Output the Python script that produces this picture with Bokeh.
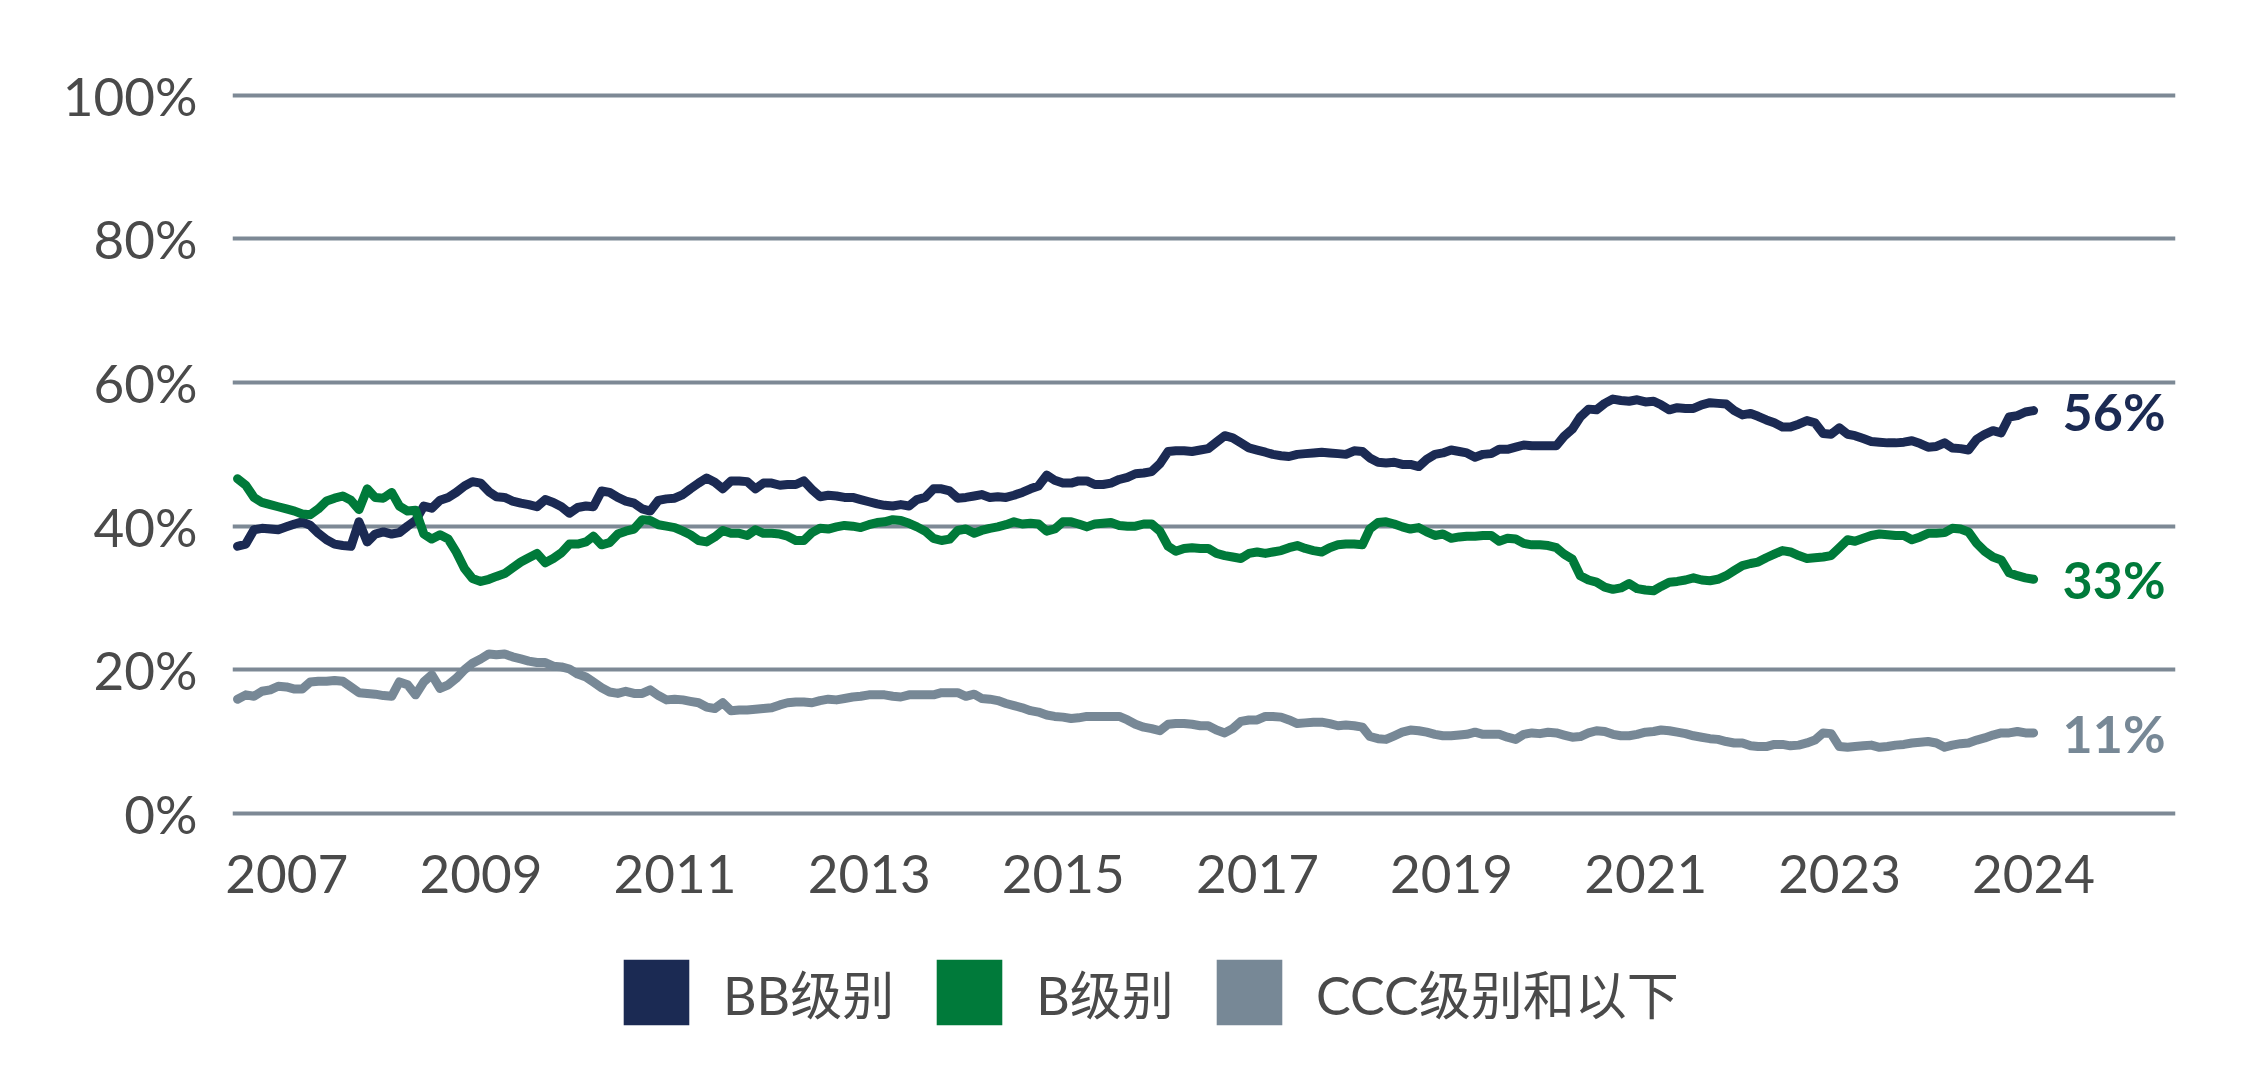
import pandas as pd
from bokeh.plotting import figure
from bokeh.layouts import column
from bokeh.models import (Range1d, FixedTicker, DatetimeTickFormatter, PrintfTickFormatter,
                          Legend, LegendItem, ColumnDataSource)
from bokeh.core.properties import value
from bokeh.embed import file_html
from bokeh.resources import INLINE

# ---------------- data (monthly, month-end, Jun 2006 - Dec 2024) ----------------
first_month = "2006-06-01"

bb = [37.2, 37.5, 39.5, 39.7, 39.6, 39.5, 39.9, 40.3, 40.6, 40.1,
      39.0, 38.1, 37.5, 37.3, 37.2, 40.6, 37.8, 38.9, 39.2, 38.9,
      39.1, 40.0, 40.8, 42.8, 42.5, 43.6, 44.0, 44.7, 45.6, 46.2,
      46.0, 44.8, 44.1, 44.0, 43.5, 43.2, 43.0, 42.7, 43.7, 43.3,
      42.7, 41.8, 42.6, 42.8, 42.7, 44.9, 44.7, 44.0, 43.5, 43.2,
      42.4, 42.1, 43.6, 43.8, 43.9, 44.4, 45.2, 46.0, 46.7, 46.1,
      45.2, 46.3, 46.3, 46.2, 45.2, 46.0, 46.0, 45.7, 45.8, 45.8,
      46.3, 45.1, 44.1, 44.3, 44.2, 44.0, 44.0, 43.7, 43.4, 43.1,
      42.9, 42.8, 43.0, 42.8, 43.7, 44.0, 45.2, 45.2, 44.9, 43.9,
      44.0, 44.2, 44.4, 44.0, 44.1, 44.0, 44.3, 44.7, 45.2, 45.6,
      47.1, 46.4, 46.0, 46.0, 46.3, 46.3, 45.8, 45.8, 46.0, 46.5,
      46.8, 47.3, 47.4, 47.6, 48.7, 50.4, 50.5, 50.5, 50.4, 50.6,
      50.8, 51.7, 52.6, 52.3, 51.6, 50.9, 50.6, 50.3, 50.0, 49.8,
      49.7, 50.0, 50.1, 50.2, 50.3, 50.2, 50.1, 50.0, 50.5, 50.4,
      49.5, 48.9, 48.8, 48.9, 48.6, 48.6, 48.3, 49.3, 50.0, 50.2,
      50.6, 50.4, 50.2, 49.6, 50.0, 50.1, 50.7, 50.7, 51.0, 51.3,
      51.2, 51.2, 51.2, 51.2, 52.5, 53.5, 55.2, 56.3, 56.2, 57.1,
      57.7, 57.5, 57.4, 57.6, 57.3, 57.4, 56.9, 56.2, 56.5, 56.4,
      56.4, 56.9, 57.2, 57.1, 57.0, 56.1, 55.5, 55.7, 55.3, 54.8,
      54.4, 53.8, 53.8, 54.2, 54.7, 54.4, 52.9, 52.8, 53.7, 52.8,
      52.6, 52.2, 51.8, 51.7, 51.6, 51.6, 51.7, 51.9, 51.5, 51.0,
      51.1, 51.6, 50.9, 50.8, 50.6, 52.1, 52.8, 53.3, 53.0, 55.2,
      55.4, 55.9, 56.1]

b = [46.6, 45.7, 44.0, 43.3, 43.0, 42.7, 42.4, 42.1, 41.7, 41.6,
     42.4, 43.5, 43.9, 44.2, 43.6, 42.3, 45.2, 44.0, 43.9, 44.7,
     42.8, 42.1, 42.2, 38.9, 38.2, 38.8, 38.2, 36.4, 34.1, 32.7,
     32.3, 32.6, 33.0, 33.4, 34.2, 35.0, 35.6, 36.2, 34.9, 35.5,
     36.3, 37.5, 37.5, 37.8, 38.6, 37.4, 37.7, 38.9, 39.3, 39.6,
     40.9, 40.8, 40.2, 40.0, 39.8, 39.3, 38.8, 38.0, 37.8, 38.5,
     39.4, 39.0, 39.0, 38.7, 39.5, 39.0, 39.0, 38.9, 38.6, 38.0,
     38.0, 39.1, 39.7, 39.6, 39.9, 40.1, 40.0, 39.8, 40.2, 40.5,
     40.6, 40.9, 40.8, 40.4, 39.9, 39.3, 38.3, 38.0, 38.2, 39.4,
     39.6, 39.0, 39.4, 39.7, 39.9, 40.2, 40.6, 40.3, 40.4, 40.3,
     39.3, 39.6, 40.6, 40.6, 40.3, 39.9, 40.3, 40.4, 40.5, 40.1,
     40.0, 40.0, 40.3, 40.3, 39.3, 37.2, 36.5, 36.9, 37.0, 36.9,
     36.9, 36.2, 35.9, 35.7, 35.5, 36.2, 36.4, 36.2, 36.4, 36.6,
     37.0, 37.3, 36.9, 36.6, 36.4, 37.0, 37.4, 37.5, 37.5, 37.4,
     39.6, 40.5, 40.6, 40.3, 39.9, 39.6, 39.8, 39.2, 38.7, 38.9,
     38.3, 38.5, 38.6, 38.6, 38.7, 38.7, 37.9, 38.3, 38.2, 37.6,
     37.4, 37.4, 37.3, 37.0, 36.1, 35.4, 33.1, 32.5, 32.2, 31.5,
     31.2, 31.4, 32.0, 31.3, 31.1, 31.0, 31.6, 32.2, 32.3, 32.5,
     32.8, 32.5, 32.4, 32.6, 33.1, 33.8, 34.5, 34.8, 35.0, 35.6,
     36.1, 36.6, 36.4, 35.9, 35.5, 35.6, 35.7, 35.9, 37.0, 38.1,
     37.9, 38.3, 38.7, 38.9, 38.8, 38.7, 38.7, 38.1, 38.5, 39.0,
     39.0, 39.1, 39.7, 39.6, 39.2, 37.6, 36.5, 35.7, 35.3, 33.5,
     33.1, 32.8, 32.6]

ccc = [15.9, 16.5, 16.3, 17.0, 17.2, 17.7, 17.6, 17.3, 17.3, 18.3,
       18.4, 18.4, 18.5, 18.4, 17.6, 16.8, 16.7, 16.6, 16.4, 16.3,
       18.3, 17.9, 16.5, 18.3, 19.3, 17.4, 17.9, 18.8, 20.0, 20.9,
       21.5, 22.2, 22.1, 22.2, 21.8, 21.5, 21.2, 21.0, 21.0, 20.5,
       20.4, 20.1, 19.4, 19.0, 18.3, 17.5, 16.9, 16.7, 17.0, 16.7,
       16.7, 17.2, 16.4, 15.8, 15.9, 15.8, 15.6, 15.4, 14.8, 14.6,
       15.4, 14.3, 14.4, 14.4, 14.5, 14.6, 14.7, 15.1, 15.4, 15.5,
       15.5, 15.4, 15.7, 15.9, 15.8, 16.0, 16.2, 16.3, 16.5, 16.5,
       16.5, 16.3, 16.2, 16.5, 16.5, 16.5, 16.5, 16.8, 16.8, 16.8,
       16.3, 16.6, 16.0, 15.9, 15.7, 15.3, 15.0, 14.7, 14.3, 14.1,
       13.7, 13.5, 13.4, 13.2, 13.3, 13.5, 13.5, 13.5, 13.5, 13.5,
       13.0, 12.4, 12.0, 11.8, 11.5, 12.4, 12.5, 12.5, 12.4, 12.2,
       12.2, 11.6, 11.2, 11.8, 12.8, 13.0, 13.0, 13.5, 13.5, 13.4,
       13.0, 12.5, 12.6, 12.7, 12.7, 12.5, 12.2, 12.3, 12.2, 12.0,
       10.7, 10.4, 10.3, 10.8, 11.3, 11.6, 11.5, 11.3, 11.0, 10.8,
       10.8, 10.9, 11.0, 11.3, 11.0, 11.0, 11.0, 10.6, 10.3, 11.0,
       11.2, 11.1, 11.3, 11.2, 10.9, 10.6, 10.7, 11.2, 11.5, 11.4,
       11.0, 10.8, 10.8, 11.0, 11.3, 11.4, 11.6, 11.5, 11.3, 11.1,
       10.8, 10.6, 10.4, 10.3, 10.0, 9.8, 9.8, 9.4, 9.3, 9.3,
       9.6, 9.6, 9.4, 9.5, 9.8, 10.2, 11.2, 11.1, 9.3, 9.2,
       9.3, 9.4, 9.5, 9.2, 9.3, 9.5, 9.6, 9.8, 9.9, 10.0,
       9.8, 9.2, 9.5, 9.7, 9.8, 10.2, 10.5, 10.9, 11.2, 11.2,
       11.4, 11.2, 11.2]

series_names = ["BB级别", "B级别", "CCC级别和以下"]
series_colors = ["#1B2A53", "#007A3A", "#778896"]
y_ticks = [0, 20, 40, 60, 80, 100]
x_tick_dates = ["2007-01-01", "2009-01-01", "2011-01-01", "2013-01-01", "2015-01-01",
                "2017-01-01", "2019-01-01", "2021-01-01", "2023-01-01", "2024-12-31"]

# ---------------- build ----------------
dates = pd.date_range(first_month, periods=len(bb), freq="MS") + pd.offsets.MonthEnd(0)

GRID = "#7D8995"
TXT = "#4A4A4A"
FONT = "Lato"
W = 2226

p = figure(width=W, height=958, x_axis_type="datetime",
           output_backend="svg", toolbar_location=None, tools="",
           min_border_left=232, min_border_right=51, min_border_top=59, min_border_bottom=138,
           x_range=Range1d(pd.Timestamp("2006-06-11"), pd.Timestamp("2026-06-18")),
           y_range=Range1d(-1, 105))
p.outline_line_color = None
p.background_fill_color = "white"
p.border_fill_color = "white"

# grid
p.xgrid.visible = False
p.ygrid.ticker = FixedTicker(ticks=y_ticks)
p.ygrid.grid_line_color = GRID
p.ygrid.grid_line_width = 4

# y axis
p.yaxis.ticker = FixedTicker(ticks=y_ticks)
p.yaxis.formatter = PrintfTickFormatter(format="%d%%")
p.yaxis.axis_line_color = None
p.yaxis.major_tick_line_color = None
p.yaxis.minor_tick_line_color = None
p.yaxis.major_tick_out = 0
p.yaxis.major_tick_in = 0
p.yaxis.major_label_standoff = 35
p.yaxis.major_label_text_font = FONT
p.yaxis.major_label_text_font_size = "53px"
p.yaxis.major_label_text_color = TXT

# x axis
tick_ms = [pd.Timestamp(d).value / 1e6 for d in x_tick_dates]
p.xaxis.ticker = FixedTicker(ticks=tick_ms)
fmt = "%Y"
p.xaxis.formatter = DatetimeTickFormatter(microseconds=fmt, milliseconds=fmt, seconds=fmt,
                                          minsec=fmt, minutes=fmt, hourmin=fmt, hours=fmt,
                                          days=fmt, months=fmt, years=fmt)
p.xaxis.axis_line_color = None
p.xaxis.major_tick_line_color = None
p.xaxis.minor_tick_line_color = None
p.xaxis.major_tick_out = 0
p.xaxis.major_tick_in = 0
p.xaxis.major_label_standoff = 34
p.xaxis.major_label_text_font = FONT
p.xaxis.major_label_text_font_size = "53px"
p.xaxis.major_label_text_color = TXT

# lines
src = ColumnDataSource(dict(date=dates, bb=bb, b=b, ccc=ccc))
for col, color in zip(["bb", "b", "ccc"], series_colors):
    p.line("date", col, source=src, line_color=color, line_width=9,
           line_join="round", line_cap="round")

# end labels
last_vals = [bb[-1], b[-1], ccc[-1]]
lab_src = ColumnDataSource(dict(x=[dates[-1]] * 3, y=last_vals,
                                text=[f"{round(v)}%" for v in last_vals],
                                color=series_colors))
p.text("x", "y", text="text", text_color="color", source=lab_src,
       text_font=value(FONT), text_font_style="bold", text_font_size="52px",
       text_baseline="middle", text_align="left", x_offset=29)

# legend strip (separate small figure under the chart), square swatches.
# The swatch renderers hold one proxy rectangle each, placed outside the visible range,
# so only their legend entries are drawn.
leg = figure(width=W, height=118, output_backend="svg", toolbar_location=None, tools="",
             x_axis_location=None, y_axis_location=None, min_border=0,
             x_range=Range1d(0, 1), y_range=Range1d(0, 1))
leg.outline_line_color = None
leg.xgrid.visible = False
leg.ygrid.visible = False
proxy = ColumnDataSource(dict(l=[-3], r=[-2], t=[-2], btm=[-3]))
items = []
for name, color in zip(series_names, series_colors):
    rr = leg.quad(left="l", right="r", top="t", bottom="btm", source=proxy,
                  fill_color=color, line_color=None)
    items.append(LegendItem(label=name, renderers=[rr]))
lg = Legend(items=items, location=(383, 43), orientation="horizontal",
            glyph_width=82, glyph_height=82, label_standoff=26, spacing=34,
            padding=0, margin=0, border_line_color=None, background_fill_alpha=0,
            label_text_font="Lato, Noto Sans CJK SC", label_text_font_size="52px",
            label_text_color=TXT, label_text_baseline="middle")
leg.add_layout(lg)

open("out.html", "w").write(file_html(column(p, leg), INLINE))
